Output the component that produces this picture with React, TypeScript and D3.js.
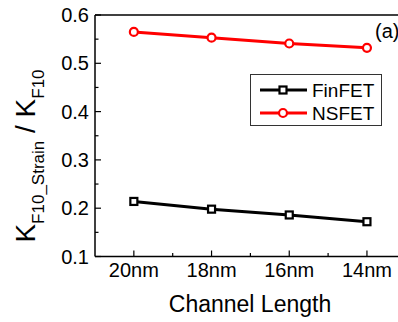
import React from "react";
import * as d3 from "d3";

const categories = ["20nm", "18nm", "16nm", "14nm"];
const finfet = [0.214, 0.198, 0.186, 0.172];
const nsfet = [0.565, 0.553, 0.541, 0.532];
const yTicks = [0.1, 0.2, 0.3, 0.4, 0.5, 0.6];
const yMinor = [0.15, 0.25, 0.35, 0.45, 0.55];

const W = 398, H = 322;
const FONT = "'Liberation Sans', Arial, sans-serif";

export default function App() {
  const x = d3.scaleLinear().domain([-0.5, 3.5]).range([95, 405.8]);
  const y = d3.scaleLinear().domain([0.1, 0.6]).range([256.5, 15]);
  const line = d3.line<number>().x((_, i) => x(i)).y((d) => y(d));
  const minorX = [0.5, 1.5, 2.5];
  const left = 95, bottom = 256.5, top = 15;

  return (
    <svg width={W} height={H} style={{ position: "absolute", left: 0, top: 0, background: "#fff" }} fontFamily={FONT}>
      {/* axes */}
      <line x1={left} y1={top} x2={W} y2={top} stroke="#000" strokeWidth={1.5} />
      <line x1={left} y1={top} x2={left} y2={bottom} stroke="#000" strokeWidth={1.5} />
      <line x1={left} y1={bottom} x2={W} y2={bottom} stroke="#000" strokeWidth={1.5} />
      {yTicks.map((t) => (
        <g key={t}>
          <line x1={left} x2={left + 6} y1={y(t)} y2={y(t)} stroke="#000" strokeWidth={1.2} />
          <text x={89} y={y(t) + 7} textAnchor="end" fontSize={20}>{t.toFixed(1)}</text>
        </g>
      ))}
      {yMinor.map((t) => (
        <line key={t} x1={left} x2={left + 3.5} y1={y(t)} y2={y(t)} stroke="#000" strokeWidth={1.2} />
      ))}
      {categories.map((c, i) => (
        <g key={c}>
          <line x1={x(i)} x2={x(i)} y1={bottom} y2={bottom - 6} stroke="#000" strokeWidth={1.2} />
          <text x={x(i)} y={277} textAnchor="middle" fontSize={20}>{c}</text>
        </g>
      ))}
      {minorX.map((m) => (
        <line key={m} x1={x(m)} x2={x(m)} y1={bottom} y2={bottom - 3.5} stroke="#000" strokeWidth={1.2} />
      ))}
      <text x={250} y={312} textAnchor="middle" fontSize={23}>Channel Length</text>
      <text transform="translate(35,156) rotate(-90)" textAnchor="middle" fontSize={28}>
        K<tspan fontSize={17} dy={9}>F10_Strain</tspan>
        <tspan dy={-9}> / K</tspan>
        <tspan fontSize={17} dy={9}>F10</tspan>
      </text>
      <text x={375} y={38} fontSize={20}>(a)</text>

      {/* series */}
      <path d={line(finfet) || ""} fill="none" stroke="#000" strokeWidth={3} />
      {finfet.map((v, i) => (
        <rect key={i} x={x(i) - 3.5} y={y(v) - 3.5} width={7} height={7} fill="#fff" stroke="#000" strokeWidth={2.2} />
      ))}
      <path d={line(nsfet) || ""} fill="none" stroke="#ff0000" strokeWidth={3} />
      {nsfet.map((v, i) => (
        <circle key={i} cx={x(i)} cy={y(v)} r={4} fill="#fff" stroke="#ff0000" strokeWidth={2.2} />
      ))}

      {/* legend */}
      <rect x={250.5} y={74.5} width={131} height={51} fill="#fff" stroke="#333" strokeWidth={1} />
      <line x1={260} x2={307} y1={90} y2={90} stroke="#000" strokeWidth={3} />
      <rect x={283 - 3.5} y={90 - 3.5} width={7} height={7} fill="#fff" stroke="#000" strokeWidth={2.2} />
      <text x={312} y={97} fontSize={19}>FinFET</text>
      <line x1={260} x2={307} y1={113} y2={113} stroke="#ff0000" strokeWidth={3} />
      <circle cx={283} cy={113} r={4} fill="#fff" stroke="#ff0000" strokeWidth={2.2} />
      <text x={312} y={120} fontSize={19}>NSFET</text>
    </svg>
  );
}
